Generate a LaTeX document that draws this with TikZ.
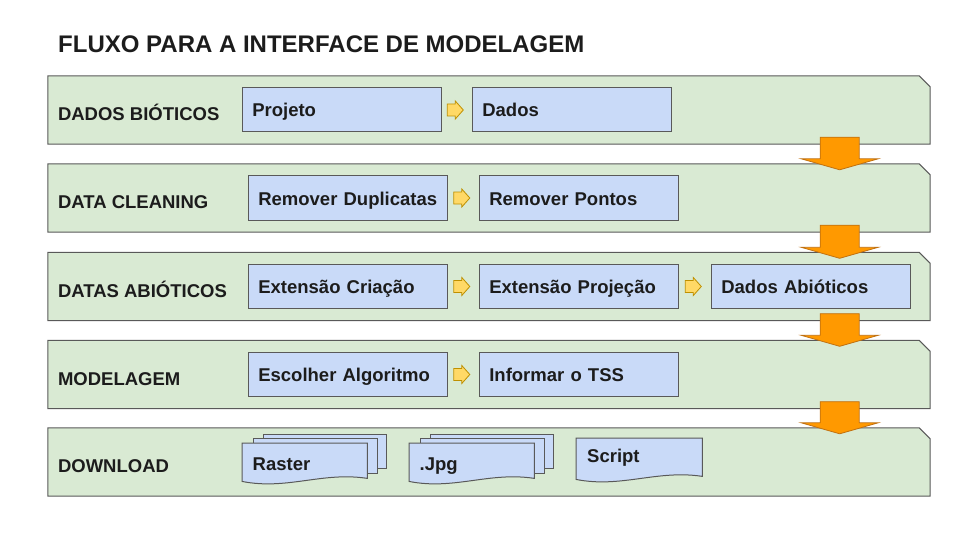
\documentclass[tikz,border=0pt]{standalone}
\usepackage{fontspec}
\setmainfont{Liberation Sans}
\usetikzlibrary{positioning,calc}
\definecolor{laneGreen}{HTML}{D9EAD3}
\definecolor{boxBlue}{HTML}{C9DAF8}
\definecolor{edgeGray}{HTML}{595959}
\definecolor{flowOrange}{HTML}{FF9900}
\definecolor{flowOrangeDark}{HTML}{C07010}
\definecolor{tipYellow}{HTML}{FFD966}
\definecolor{tipYellowDark}{HTML}{BF9000}
\definecolor{inkBlack}{HTML}{1C1C1C}
\pgfdeclarelayer{lanes}
\pgfdeclarelayer{sheets}
\pgfsetlayers{lanes,sheets,main}

% lane outline with the cut corner at top right
\newcommand{\laneShape}[1]{%
  \draw[laneline] (#1.south west) -- (#1.north west) -- ($(#1.north east)+(-11,0)$)
    -- ($(#1.north east)+(0,11)$) -- (#1.south east) -- cycle;
}
% small yellow arrow between two boxes
\newcommand{\tipArrow}[2]{%
  \coordinate (m) at ($(#1.east)!.5!(#2.west)$);
  \draw[tiparrow] ($(m)+(-9.5,-6)$) -- ($(m)+(-1.5,-6)$) -- ($(m)+(-1.5,-9)$)
    -- ($(m)+(6.5,0)$) -- ($(m)+(-1.5,9)$) -- ($(m)+(-1.5,6)$) -- ($(m)+(-9.5,6)$) -- cycle;
}
% big orange arrow from one lane to the next
\newcommand{\laneArrow}[2]{%
  \coordinate (tA) at ($(#1.south east)+(-90.5,-7)$);
  \coordinate (tB) at ($(tA |- #2.north)+(0,6)$);
  \draw[flowarrow] ($(tA)+(-19.5,0)$) -- ($(tA)+(19.5,0)$) -- ($(tB)+(19.5,-11)$)
    -- ($(tB)+(38.5,-11)$) -- (tB) -- ($(tB)+(-38.5,-11)$) -- ($(tB)+(-19.5,-11)$) -- cycle;
}
% outline of a document sheet round a node
\newcommand{\docSheet}[1]{%
  \draw[sheet] (#1.north west) -- (#1.north east) -- ($(#1.south east)+(0,-6)$)
    .. controls ($(#1.south east)+(-45,-13)$) and ($(#1.south west)+(45,6)$) .. ($(#1.south west)+(0,-3)$) -- cycle;
}
% the two pages behind a multi document
\newcommand{\backSheets}[1]{%
  \draw[sheet] ($(#1.north west)+(21,-9)$) rectangle ($(#1.north east)+(19,25)$);
  \draw[sheet] ($(#1.north west)+(11,-5)$) rectangle ($(#1.north east)+(10,30)$);
}

\begin{document}
\begin{tikzpicture}[x=1pt,y=-1pt,
  lane/.style={rectangle, inner sep=0pt, minimum width=882pt, minimum height=68pt},
  laneline/.style={draw=edgeGray, fill=laneGreen, line width=1pt, line join=miter},
  lanelabel/.style={anchor=base west, inner sep=0pt, text=inkBlack,
    font=\bfseries\fontsize{18.5}{22}\selectfont},
  stepbox/.style={draw=edgeGray, fill=boxBlue, line width=1pt,
    minimum width=199pt, minimum height=44pt, inner xsep=10pt, inner ysep=0pt,
    text width=179pt, align=left, text height=14pt, text depth=0pt, text=inkBlack,
    font=\bfseries\fontsize{18.5}{22}\selectfont},
  docbox/.style={minimum width=125pt, minimum height=41pt, inner xsep=10.5pt, inner ysep=0pt,
    text width=104pt, align=left, text height=14.4pt, text depth=0pt, text=inkBlack,
    font=\bfseries\fontsize{18.5}{22}\selectfont},
  sheet/.style={draw=edgeGray, fill=boxBlue, line width=1pt},
  tiparrow/.style={draw=tipYellowDark, fill=tipYellow, line width=0.8pt, line join=miter},
  flowarrow/.style={draw=flowOrangeDark, fill=flowOrange, line width=0.8pt, line join=miter},
  node distance=31pt]
\useasboundingbox (0,0) rectangle (960,540);

\node[anchor=base west, inner sep=0pt, text=inkBlack,
  font=\bfseries\fontsize{24}{28}\selectfont] (titulo) at (58,52.5)
  {FLUXO PARA A INTERFACE DE MODELAGEM};

% lanes
\begin{pgfonlayer}{lanes}
\node[lane] (bioticos) at (489,110) {};
\node[lane] (cleaning) at (489,198) {};
\node[lane] (abioticos) at (489,286.5) {};
\node[lane] (modelagem) at (489,374.5) {};
\node[lane] (download) at (489,462) {};
\laneShape{bioticos}
\laneShape{cleaning}
\laneShape{abioticos}
\laneShape{modelagem}
\laneShape{download}
\end{pgfonlayer}

\node[lanelabel] (lbBioticos) at ($(bioticos.west)+(10,10.5)$) {DADOS BIÓTICOS};
\node[lanelabel] (lbCleaning) at ($(cleaning.west)+(10,10.5)$) {DATA CLEANING};
\node[lanelabel] (lbAbioticos) at ($(abioticos.west)+(10,10.5)$) {DATAS ABIÓTICOS};
\node[lanelabel] (lbModelagem) at ($(modelagem.west)+(10,10.5)$) {MODELAGEM};
\node[lanelabel] (lbDownload) at ($(download.west)+(10,10.5)$) {DOWNLOAD};

% steps
\node[stepbox, anchor=west] (projeto) at ($(bioticos.west)+(194,0)$) {Projeto};
\node[stepbox, right=30pt of projeto] (dados) {Dados};

\node[stepbox, anchor=west] (duplicatas) at ($(cleaning.west)+(200,0)$) {Remover Duplicatas};
\node[stepbox, right=of duplicatas] (pontos) {Remover Pontos};

\node[stepbox, anchor=west] (criacao) at ($(abioticos.west)+(200,0)$) {Extensão Criação};
\node[stepbox, right=of criacao] (projecao) {Extensão Projeção};
\node[stepbox, right=32pt of projecao] (dadosAb) {Dados Abióticos};

\node[stepbox, anchor=west] (algoritmo) at ($(modelagem.west)+(200,0)$) {Escolher Algoritmo};
\node[stepbox, right=of algoritmo] (tss) {Informar o TSS};

% outputs
\node[docbox, anchor=north west] (raster) at (242,443) {Raster};
\node[docbox, anchor=north west] (jpg) at (409,443) {.Jpg};
\node[docbox, anchor=north west, minimum width=126pt, minimum height=44pt,
  text height=14pt, text depth=9pt] (script) at (576,438) {Script};
\begin{pgfonlayer}{sheets}
\backSheets{raster}
\docSheet{raster}
\backSheets{jpg}
\docSheet{jpg}
\docSheet{script}
\end{pgfonlayer}

% connectors
\tipArrow{projeto}{dados}
\tipArrow{duplicatas}{pontos}
\tipArrow{criacao}{projecao}
\tipArrow{projecao}{dadosAb}
\tipArrow{algoritmo}{tss}

\laneArrow{bioticos}{cleaning}
\laneArrow{cleaning}{abioticos}
\laneArrow{abioticos}{modelagem}
\laneArrow{modelagem}{download}
\end{tikzpicture}
\end{document}
